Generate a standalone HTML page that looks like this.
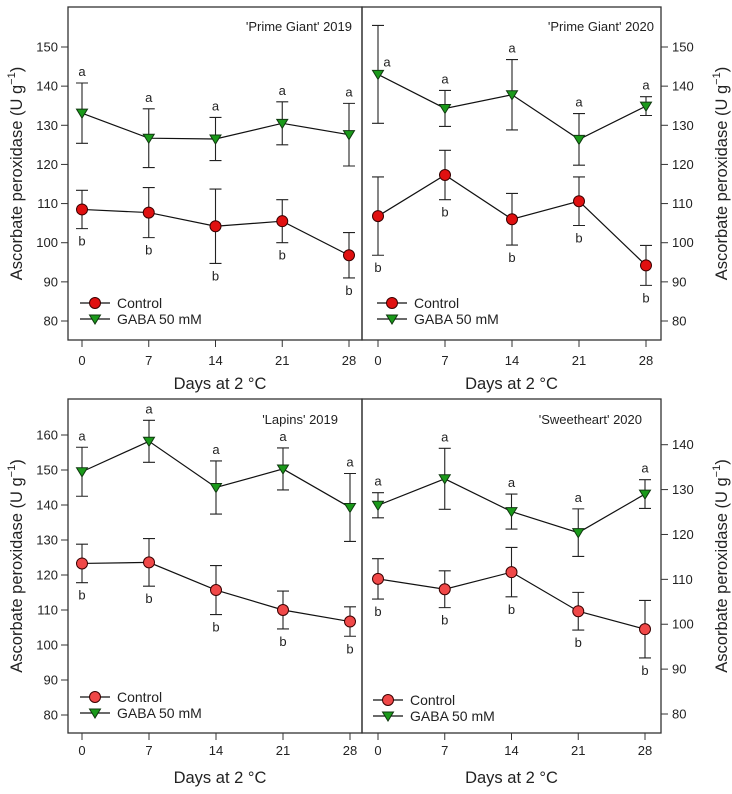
<!DOCTYPE html>
<html><head><meta charset="utf-8"><style>
body{margin:0;background:#fff;}
svg{display:block;font-family:"Liberation Sans",Arial,sans-serif;}
</style></head><body>
<svg id="chart" width="732" height="794" viewBox="0 0 732 794"></svg>
<script>
const days = [0, 7, 14, 21, 28];
// Panel A: 'Prime Giant' 2019
const pg19Control = [108.5, 107.7, 104.2, 105.5, 96.8];
const pg19ControlErr = [4.9, 6.4, 9.5, 5.5, 5.8];
const pg19Gaba = [133.1, 126.7, 126.5, 130.5, 127.6];
const pg19GabaErr = [7.7, 7.5, 5.5, 5.5, 8.0];
// Panel B: 'Prime Giant' 2020
const pg20Control = [106.8, 117.3, 106.0, 110.6, 94.2];
const pg20ControlErr = [10.0, 6.3, 6.6, 6.2, 5.1];
const pg20Gaba = [143.0, 134.3, 137.8, 126.4, 134.9];
const pg20GabaErr = [12.5, 4.6, 9.0, 6.6, 2.4];
// Panel C: 'Lapins' 2019
const lap19Control = [123.3, 123.6, 115.7, 110.0, 106.7];
const lap19ControlErr = [5.5, 6.8, 7.0, 5.4, 4.2];
const lap19Gaba = [149.5, 158.2, 145.0, 150.3, 139.3];
const lap19GabaErr = [7.0, 6.0, 7.6, 6.0, 9.7];
// Panel D: 'Sweetheart' 2020
const sw20Control = [110.1, 107.8, 111.6, 102.9, 98.9];
const sw20ControlErr = [4.5, 4.1, 5.5, 4.2, 6.4];
const sw20Gaba = [126.5, 132.4, 125.1, 120.4, 129.0];
const sw20GabaErr = [2.8, 6.8, 3.9, 5.3, 3.2];
const ticksTop = [80, 90, 100, 110, 120, 130, 140, 150];
const ticksLapins = [80, 90, 100, 110, 120, 130, 140, 150, 160];
const ticksSweet = [80, 90, 100, 110, 120, 130, 140];
const xTickLabels = ["0", "7", "14", "21", "28"];

const NS = "http://www.w3.org/2000/svg";
const svg = document.getElementById("chart");
function mk(tag, attrs, parent, text){
  const e = document.createElementNS(NS, tag);
  for (const k in attrs) e.setAttribute(k, attrs[k]);
  if (text !== undefined) e.textContent = text;
  (parent || svg).appendChild(e);
  return e;
}

const panels = [
  {id:"prime-giant-2019", title:"'Prime Giant' 2019", bx0:68, bx1:362, by0:7, by1:340, px0:82, px28:349, yLoVal:80, yLoPx:321, yHiVal:150, yHiPx:47, ticks:ticksTop, side:"left", ctl:pg19Control, ctlE:pg19ControlErr, gaba:pg19Gaba, gabaE:pg19GabaErr, legY:303, legX:80, titleX:352, titleY:31, gabaLabel:"GABA  50 mM", ctlColor:"#e01010", tickLabY:365, xTitleY:389},
  {id:"prime-giant-2020", title:"'Prime Giant' 2020", bx0:362, bx1:661, by0:7, by1:340, px0:378, px28:646, yLoVal:80, yLoPx:321, yHiVal:150, yHiPx:47, ticks:ticksTop, side:"right", ctl:pg20Control, ctlE:pg20ControlErr, gaba:pg20Gaba, gabaE:pg20GabaErr, legY:303, legX:377, titleX:654, titleY:31, gabaLabel:"GABA  50 mM", ctlColor:"#e01010", tickLabY:365, xTitleY:389, specialA:0},
  {id:"lapins-2019", title:"'Lapins' 2019", bx0:68, bx1:362, by0:399, by1:733, px0:82, px28:350, yLoVal:80, yLoPx:715, yHiVal:160, yHiPx:435, ticks:ticksLapins, side:"left", ctl:lap19Control, ctlE:lap19ControlErr, gaba:lap19Gaba, gabaE:lap19GabaErr, legY:697, legX:80, titleX:338, titleY:424, gabaLabel:"GABA 50 mM", ctlColor:"#f04848", tickLabY:755, xTitleY:783},
  {id:"sweetheart-2020", title:"'Sweetheart' 2020", bx0:362, bx1:661, by0:399, by1:733, px0:378, px28:645, yLoVal:80, yLoPx:714, yHiVal:140, yHiPx:444.7, ticks:ticksSweet, side:"right", ctl:sw20Control, ctlE:sw20ControlErr, gaba:sw20Gaba, gabaE:sw20GabaErr, legY:700, legX:373, titleX:642, titleY:424, gabaLabel:"GABA 50 mM", ctlColor:"#f04848", tickLabY:755, xTitleY:783}
];

function tri(g, x, y, name){
  const t = mk("path", {d:`M${x-5.5},${y-4} L${x+5.5},${y-4} L${x},${y+5} Z`, fill:"#1a9a1a", stroke:"#103810", "stroke-width":"1"}, g);
  
  
  return t;
}
function circ(g, x, y, color, name){
  const c = mk("circle", {cx:x, cy:y, r:5.5, fill:color, stroke:"#3a0000", "stroke-width":"1"}, g);
  
  
  return c;
}

panels.forEach(p => {
  const g = mk("g", {});
  
  
  const X = d => p.px0 + (p.px28 - p.px0) * d / 28;
  const Y = v => p.yLoPx + (p.yHiPx - p.yLoPx) * (v - p.yLoVal) / (p.yHiVal - p.yLoVal);
  const box = mk("rect", {x:p.bx0, y:p.by0, width:p.bx1-p.bx0, height:p.by1-p.by0, fill:"none", stroke:"#333", "stroke-width":"1.3"}, g);
  
  
  // y axis
  const yg = mk("g", {}, g);
  
  
  const ax = p.side === "left" ? p.bx0 : p.bx1;
  p.ticks.forEach(t => {
    const yy = Y(t);
    if (p.side === "left") {
      mk("line", {x1:ax-7, x2:ax, y1:yy, y2:yy, stroke:"#333", "stroke-width":"1"}, yg);
      const tl = mk("text", {x:ax-10, y:yy+4.5, "text-anchor":"end", "font-size":"13", fill:"#222"}, yg, String(t));
      
      
    } else {
      mk("line", {x1:ax, x2:ax+7, y1:yy, y2:yy, stroke:"#333", "stroke-width":"1"}, yg);
      const tl = mk("text", {x:ax+11, y:yy+4.5, "text-anchor":"start", "font-size":"13", fill:"#222"}, yg, String(t));
      
      
    }
  });
  const cy = (p.by0 + p.by1) / 2;
  const tx = p.side === "left" ? 22 : 727;
  const yt = mk("text", {x:tx, y:cy, "text-anchor":"middle", "font-size":"16.5", fill:"#222", transform:`rotate(-90 ${tx} ${cy})`}, yg);
  
  
  yt.appendChild(document.createTextNode("Ascorbate peroxidase (U g"));
  mk("tspan", {dy:"-7", "font-size":"11"}, yt, "−1");
  mk("tspan", {dy:"7"}, yt, ")");
  // x axis
  const xg = mk("g", {}, g);
  
  
  days.forEach((d, i) => {
    const xx = X(d);
    mk("line", {x1:xx, x2:xx, y1:p.by1, y2:p.by1+7, stroke:"#333", "stroke-width":"1"}, xg);
    const tl = mk("text", {x:xx, y:p.tickLabY, "text-anchor":"middle", "font-size":"13", fill:"#222"}, xg, xTickLabels[i]);
    
    
  });
  const xt = mk("text", {x:(p.bx0+p.bx1)/2 + (p.side==="left"?5:0), y:p.xTitleY, "text-anchor":"middle", "font-size":"16.5", fill:"#222"}, xg, "Days at 2 °C");
  
  
  // title
  const pt = mk("text", {x:p.titleX, y:p.titleY, "text-anchor":"end", "font-size":"13", fill:"#222"}, g, p.title);
  
  
  // series
  [["control", p.ctl, p.ctlE, "b"], ["gaba", p.gaba, p.gabaE, "a"]].forEach(([nm, vals, errs, letter]) => {
    const sg = mk("g", {}, g);
    
    
    const pts = vals.map((v, i) => `${X(days[i])},${Y(v)}`).join(" ");
    const ln = mk("polyline", {points:pts, fill:"none", stroke:"#111", "stroke-width":"1.2"}, sg);
    
    
    vals.forEach((v, i) => {
      const xx = X(days[i]), yh = Y(v + errs[i]), yl = Y(v - errs[i]);
      const eb = mk("path", {d:`M${xx},${yh} V${yl} M${xx-6},${yh} H${xx+6} M${xx-6},${yl} H${xx+6}`, stroke:"#222", "stroke-width":"1.1", fill:"none"}, sg);
      
      
    });
    vals.forEach((v, i) => {
      const xx = X(days[i]), yy = Y(v);
      if (nm === "control") circ(sg, xx, yy, p.ctlColor, 'control-point');
      else tri(sg, xx, yy, 'gaba-point');
      let lx = xx, ly;
      if (letter === "a") {
        ly = Y(v + errs[i]) - 7;
        if (p.specialA === i) { lx = xx + 9; ly = Y(v) - 8; }
      } else {
        ly = Y(v - errs[i]) + 17;
      }
      const lt = mk("text", {x:lx, y:ly, "text-anchor":"middle", "font-size":"13", fill:"#222"}, sg, letter);
      
      
    });
  });
  // legend
  const lg = mk("g", {}, g);
  
  
  const e1 = mk("g", {}, lg);
  
  
  mk("line", {x1:p.legX, x2:p.legX+30, y1:p.legY, y2:p.legY, stroke:"#111", "stroke-width":"1.2"}, e1);
  circ(e1, p.legX+15, p.legY, p.ctlColor, 'legend-marker');
  mk("text", {x:p.legX+37, y:p.legY+5, "font-size":"14", fill:"#222"}, e1, "Control");
  const e2 = mk("g", {}, lg);
  
  
  mk("line", {x1:p.legX, x2:p.legX+30, y1:p.legY+16, y2:p.legY+16, stroke:"#111", "stroke-width":"1.2"}, e2);
  tri(e2, p.legX+15, p.legY+16, 'legend-marker');
  mk("text", {x:p.legX+37, y:p.legY+21, "font-size":"14", fill:"#222"}, e2, p.gabaLabel);
});
</script>
</body></html>
